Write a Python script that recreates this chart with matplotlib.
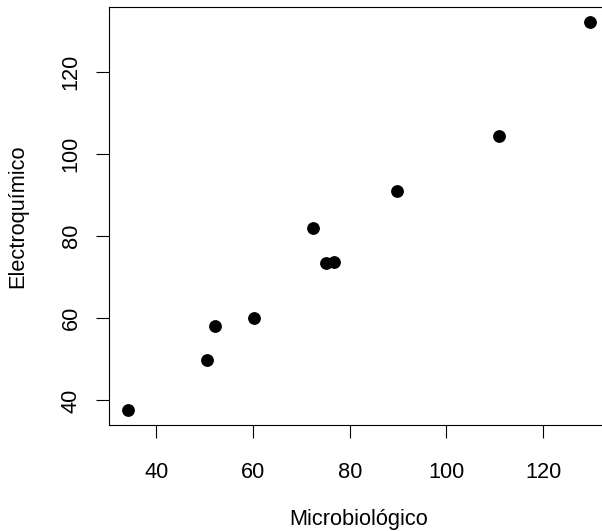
import matplotlib
matplotlib.use('Agg')
import matplotlib.pyplot as plt

# values
micro = [34.1, 50.4, 52.2, 60.2, 72.4, 75.0, 76.7, 89.7, 110.8, 129.6]
electro = [37.8, 49.9, 58.1, 60.1, 82.0, 73.4, 73.6, 90.9, 104.3, 132.1]
xticks = [40, 60, 80, 100, 120]
yticks = [40, 60, 80, 100, 120]

plt.rcParams['font.family'] = ['Liberation Sans', 'DejaVu Sans']
plt.rcParams['font.size'] = 15.7

fig = plt.figure(figsize=(6.02, 5.31), dpi=100)
ax = fig.add_axes([109.3/602, 106/531, (608 - 109.3)/602, (425 - 6.5)/531])

ax.plot(micro, electro, 'o', color='black', ms=8.2)
ax.margins(x=0.04, y=0.04)

ax.set_xticks(xticks)
ax.set_yticks(yticks)
ax.tick_params(direction='out', length=9.5, width=0.8, color='black')
ax.tick_params(axis='x', pad=17.5)
ax.tick_params(axis='y', pad=10.5)
plt.setp(ax.get_yticklabels(), rotation=90, va='center')
for s in ax.spines.values():
    s.set_linewidth(0.8)

ax.set_xlabel('Microbiológico', labelpad=18.5)
ax.set_ylabel('Electroquímico', labelpad=23)

fig.savefig('out.png', dpi=100)
